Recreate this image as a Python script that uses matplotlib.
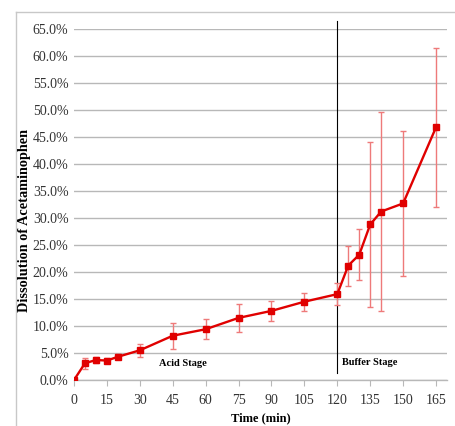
import matplotlib
matplotlib.use('Agg')
import matplotlib.pyplot as plt
from matplotlib.ticker import PercentFormatter
from matplotlib.lines import Line2D

# Dissolution profile of acetaminophen (acid stage 0-120 min, buffer stage after)
time_min = [0, 5, 10, 15, 20, 30, 45, 60, 75, 90, 105, 120, 125, 130, 135, 140, 150, 165]
dissolved = [0.0, 3.1, 3.7, 3.6, 4.3, 5.5, 8.2, 9.4, 11.5, 12.8, 14.5, 15.9,
             21.2, 23.2, 28.8, 31.2, 32.7, 46.8]
sd = [0.0, 1.0, 0.6, 0.5, 0.5, 1.25, 2.4, 1.85, 2.6, 1.85, 1.7, 2.0,
      3.7, 4.7, 15.2, 18.4, 13.5, 14.7]
x_ticks = list(range(0, 166, 15))
y_ticks = [v * 5.0 for v in range(14)]
stage_switch = 120

plt.rcParams['font.family'] = ['Liberation Serif', 'DejaVu Serif']

fig = plt.figure(figsize=(4.55, 4.26), dpi=100)
ax = fig.add_axes([74 / 455, 1 - 380 / 426, (447 - 74) / 455, (380 - 29) / 426])

ax.errorbar(time_min, dissolved, yerr=sd, color='#e00000', linewidth=1.7,
            marker='s', markersize=3.8, ecolor='#ee7a7a', elinewidth=1.0,
            capsize=2.5, capthick=1.0, zorder=3)

ax.axvline(stage_switch, ymin=0.02, ymax=1.024, color='black', linewidth=0.8,
           clip_on=False, zorder=2)

ax.set_xlim(0, 170)
ax.set_ylim(0, 65)
ax.set_xticks(x_ticks)
ax.set_yticks(y_ticks)
ax.yaxis.set_major_formatter(PercentFormatter(decimals=1))
ax.grid(axis='y', color='#b8b8b8', linewidth=1.0)
ax.set_axisbelow(True)

for side in ['top', 'right', 'left']:
    ax.spines[side].set_visible(False)
ax.spines['bottom'].set_color('#b8b8b8')
ax.spines['bottom'].set_linewidth(1.0)
ax.tick_params(axis='x', colors='#b8b8b8', length=4, labelcolor='#333333',
               labelsize=10, pad=6)
ax.tick_params(axis='y', length=0, labelcolor='#333333', labelsize=10, pad=4)

ax.text(49.5, 3.1, 'Acid Stage', fontsize=7.5, fontweight='bold', ha='center', va='center')
ax.text(134.7, 3.2, 'Buffer Stage', fontsize=7.5, fontweight='bold', ha='center', va='center')

ax.set_xlabel('Time (min)', fontsize=9, fontweight='bold', labelpad=4)
fig.text(25 / 455, 1 - 220 / 426, 'Dissolution of Acetaminophen', rotation=90,
         fontsize=10.3, fontweight='bold', ha='center', va='center')

# light outer frame
fig.add_artist(Line2D([16 / 455, 16 / 455], [0, 1 - 12 / 426], color='#c8c8c8',
                      linewidth=1.0, transform=fig.transFigure))
fig.add_artist(Line2D([16 / 455, 1], [1 - 12 / 426, 1 - 12 / 426], color='#c8c8c8',
                      linewidth=1.0, transform=fig.transFigure))

fig.savefig('out.png', dpi=100)
